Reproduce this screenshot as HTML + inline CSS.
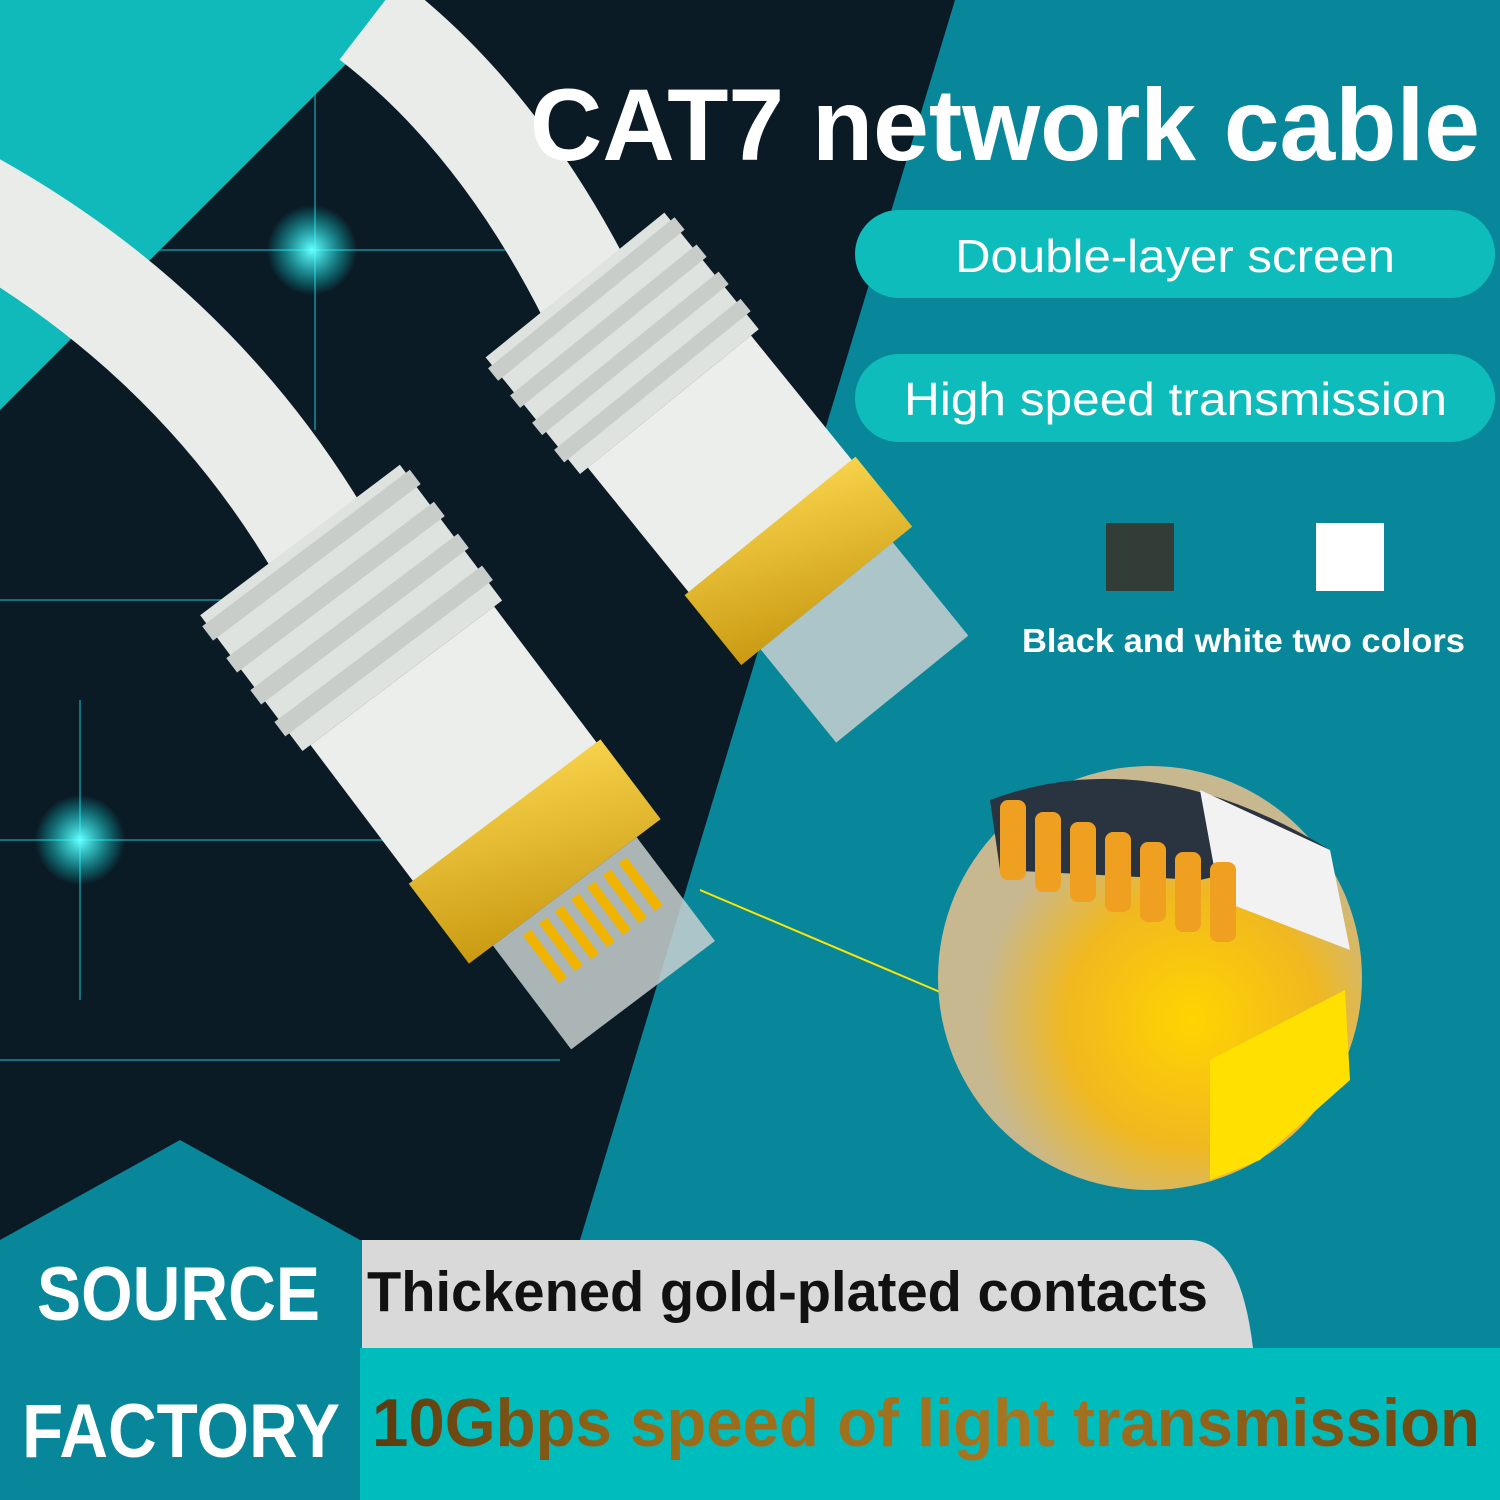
<!DOCTYPE html>
<html><head><meta charset="utf-8"><style>
html,body{margin:0;padding:0}
body{width:1500px;height:1500px;position:relative;overflow:hidden;background:#08879a}
</style></head><body>
<svg width="1500" height="1500" style="position:absolute;left:0;top:0">
<defs>
<radialGradient id="glow"><stop offset="0" stop-color="#6ff" stop-opacity="1"/><stop offset="1" stop-color="#0ff" stop-opacity="0"/></radialGradient>
<linearGradient id="gold" x1="0" y1="0" x2="1" y2="1"><stop offset="0" stop-color="#f7d24a"/><stop offset="1" stop-color="#c99a12"/></linearGradient>
<radialGradient id="cg" cx="0.6" cy="0.6"><stop offset="0" stop-color="#ffd400"/><stop offset="0.6" stop-color="#f0b820"/><stop offset="1" stop-color="#c8b890"/></radialGradient>
<linearGradient id="tg" x1="0" y1="0" x2="1" y2="0"><stop offset="0" stop-color="#5a3a10"/><stop offset="0.25" stop-color="#9a6a18"/><stop offset="0.6" stop-color="#a87520"/><stop offset="1" stop-color="#6a4410"/></linearGradient>
</defs>
<polygon points="0,0 955,0 580,1240 0,1240" fill="#0b1b26"/>
<g stroke="#1ab8c8" stroke-opacity="0.55" stroke-width="2">
<line x1="315" y1="90" x2="315" y2="430"/><line x1="0" y1="250" x2="560" y2="250"/>
<line x1="0" y1="600" x2="300" y2="600"/><line x1="0" y1="840" x2="620" y2="840"/>
<line x1="80" y1="700" x2="80" y2="1000"/><line x1="0" y1="1060" x2="560" y2="1060"/>
</g>
<circle cx="312" cy="250" r="45" fill="url(#glow)"/>
<circle cx="80" cy="840" r="45" fill="url(#glow)"/>
<polygon points="0,0 410,0 0,410" fill="#10b9ba"/>
<path d="M-40,200 Q200,330 330,560" stroke="#e9ece9" stroke-width="110" fill="none"/>
<path d="M370,20 Q500,120 590,300" stroke="#e9ece9" stroke-width="100" fill="none"/>
<g transform="translate(300,540) rotate(53)">
<rect x="0" y="-125" width="170" height="250" fill="#dfe3e0"/>
<g fill="#c9cdca"><rect x="10" y="-130" width="18" height="260"/><rect x="50" y="-130" width="18" height="260"/><rect x="90" y="-130" width="18" height="260"/><rect x="130" y="-130" width="18" height="260"/></g>
<rect x="170" y="-115" width="200" height="230" fill="#eceeec"/>
<rect x="340" y="-120" width="100" height="240" fill="url(#gold)"/>
<rect x="440" y="-90" width="130" height="180" fill="#c8d0d0" opacity="0.85"/>
<g fill="#f0b400"><rect x="450" y="-70" width="60" height="10"/><rect x="450" y="-50" width="60" height="10"/><rect x="450" y="-30" width="60" height="10"/><rect x="450" y="-10" width="60" height="10"/><rect x="450" y="10" width="60" height="10"/><rect x="450" y="30" width="60" height="10"/><rect x="450" y="50" width="60" height="10"/></g>
</g>
<g transform="translate(575,285) rotate(51)">
<rect x="0" y="-115" width="150" height="230" fill="#dfe3e0"/>
<g fill="#c9cdca"><rect x="10" y="-120" width="16" height="240"/><rect x="45" y="-120" width="16" height="240"/><rect x="80" y="-120" width="16" height="240"/><rect x="115" y="-120" width="16" height="240"/></g>
<rect x="150" y="-105" width="190" height="210" fill="#eceeec"/>
<rect x="310" y="-110" width="90" height="220" fill="url(#gold)"/>
<rect x="400" y="-85" width="120" height="170" fill="#c8d0d0" opacity="0.85"/>
</g>
<line x1="700" y1="890" x2="940" y2="992" stroke="#ffe600" stroke-width="2"/>
<circle cx="1150" cy="978" r="212" fill="url(#cg)"/>
<path d="M990,800 Q1150,740 1330,850 L1200,880 L1000,870 Z" fill="#2a3340"/>
<path d="M1200,790 L1330,850 L1350,950 L1220,900 Z" fill="#f2f2f2"/>
<g fill="#f0a020"><rect x="1000" y="800" width="26" height="80" rx="8"/><rect x="1035" y="812" width="26" height="80" rx="8"/><rect x="1070" y="822" width="26" height="80" rx="8"/><rect x="1105" y="832" width="26" height="80" rx="8"/><rect x="1140" y="842" width="26" height="80" rx="8"/><rect x="1175" y="852" width="26" height="80" rx="8"/><rect x="1210" y="862" width="26" height="80" rx="8"/></g>
<polygon points="1210,1060 1345,990 1350,1080 1260,1160 1210,1180" fill="#ffe000"/>
<polygon points="0,1240 180,1140 360,1240 360,1500 0,1500" fill="#08879a"/>
<rect x="360" y="1348" width="1140" height="152" fill="#00bdbd"/>
<path d="M362,1240 L1190,1240 Q1240,1240 1253,1348 L362,1348 Z" fill="#d9d9d9"/>
<rect x="855" y="210" width="640" height="88" rx="44" fill="#0fbcbc"/>
<rect x="855" y="354" width="640" height="88" rx="44" fill="#0fbcbc"/>
<rect x="1106" y="523" width="68" height="68" fill="#333d38"/>
<rect x="1316" y="523" width="68" height="68" fill="#fff"/>
<g font-family="Liberation Sans, sans-serif" font-weight="bold">
<text x="530" y="160" font-size="102" fill="#fff" textLength="950" lengthAdjust="spacingAndGlyphs">CAT7 network cable</text>
<text x="955" y="272" font-size="46" font-weight="normal" fill="#fff" textLength="440" lengthAdjust="spacingAndGlyphs">Double-layer screen</text>
<text x="904" y="415" font-size="46" font-weight="normal" fill="#fff" textLength="543" lengthAdjust="spacingAndGlyphs">High speed transmission</text>
<text x="1022" y="652" font-size="33" fill="#fff" textLength="443" lengthAdjust="spacingAndGlyphs">Black and white two colors</text>
<text x="37" y="1320" font-size="76" fill="#fff" textLength="283" lengthAdjust="spacingAndGlyphs">SOURCE</text>
<text x="22" y="1457" font-size="76" fill="#fff" textLength="318" lengthAdjust="spacingAndGlyphs">FACTORY</text>
<text x="367" y="1311" font-size="57" fill="#111" textLength="841" lengthAdjust="spacingAndGlyphs">Thickened gold-plated contacts</text>
<text x="372" y="1446" font-size="68" fill="url(#tg)" textLength="1108" lengthAdjust="spacingAndGlyphs">10Gbps speed of light transmission</text>
</g>
</svg>
</body></html>
